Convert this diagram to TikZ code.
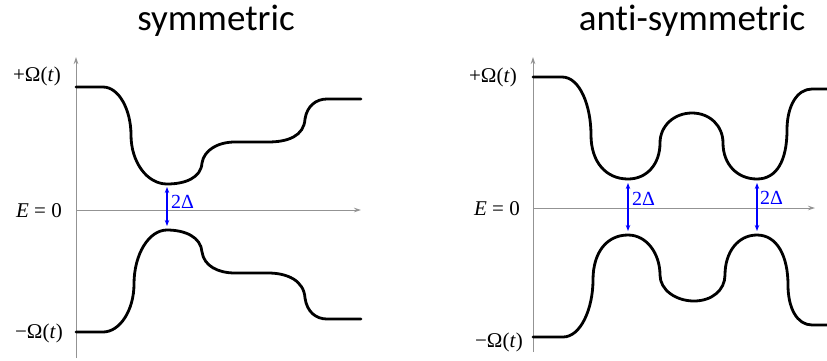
\documentclass[tikz,border=0pt]{standalone}
\usepackage{fontspec}
\setmainfont{Liberation Serif}
\newfontfamily\titlefont[Ligatures={NoCommon}]{Carlito}
\usetikzlibrary{arrows.meta}

\begin{document}
\begin{tikzpicture}[
      x=1pt, y=-1pt,
      axis/.style={draw=gray!85, line width=0.9pt, -{Stealth[length=7pt, width=4.5pt]}},
      level/.style={draw=black, line width=2.8pt, line cap=round, line join=round},
      gap/.style={draw=blue, line width=1.1pt, {Stealth[length=6pt, width=4.5pt]}-{Stealth[length=6pt, width=4.5pt]}},
      title/.style={font=\titlefont\fontsize{37}{44}\selectfont, anchor=base},
      lbl/.style={font=\fontsize{21}{24}\selectfont, inner sep=0pt, anchor=base east},
      gaplbl/.style={font=\fontsize{20}{23}\selectfont, text=blue, inner sep=0pt, anchor=base west}
    ]
    \useasboundingbox (0,0) rectangle (827,360);

    % titles
    \node[title] (symtitle) at (216,30) {symmetric};
    \node[title] (antititle) at (692,30) {anti-symmetric};

    % left panel: axes
    \coordinate (sbot) at (76,358);
    \coordinate (stop) at (76,57);
    \coordinate (szero) at (76,210);
    \coordinate (send) at (361,210);
    \draw[axis] (sbot) -- (stop);
    \draw[axis] (szero) -- (send);

    \node[lbl] (splus) at (61,81) {+Ω(\textit{t})};
    \node[lbl] (sE) at (62,217) {\textit{E} = 0};
    \node[lbl] (sminus) at (63,338) {−Ω(\textit{t})};

    % left panel: levels
    \draw[level] (76,87) -- (103,87)
      .. controls (119,87) and (131,110) .. (131,135)
      .. controls (131,162) and (147,184) .. (167,184)
      .. controls (185,184) and (201,178) .. (202,163)
      .. controls (204,150) and (218,142) .. (235,142) -- (268,142)
      .. controls (288,142) and (304,136) .. (305,119)
      .. controls (307,106) and (316,99) .. (327,99) -- (361,99);
    \draw[level] (76,332) -- (103,332)
      .. controls (120,332) and (134,310) .. (134,284)
      .. controls (134,254) and (149,230) .. (167,230)
      .. controls (185,230) and (201,237) .. (202,252)
      .. controls (204,266) and (218,273) .. (235,273) -- (268,273)
      .. controls (288,273) and (304,281) .. (305,298)
      .. controls (307,312) and (316,319) .. (327,319) -- (361,319);

    \coordinate (sgaptop) at (167,187);
    \coordinate (sgapbot) at (167,226);
    \draw[gap] (sgaptop) -- (sgapbot);
    \node[gaplbl] (sgap) at (171,208) {2Δ};

    % right panel: axes
    \coordinate (abot) at (533,352);
    \coordinate (atop) at (533,57);
    \coordinate (azero) at (533,208);
    \coordinate (aend) at (815,208);
    \draw[axis] (abot) -- (atop);
    \draw[axis] (azero) -- (aend);

    \node[lbl] (aplus) at (517,82) {+Ω(\textit{t})};
    \node[lbl] (aE) at (520,215) {\textit{E} = 0};
    \node[lbl] (aminus) at (523,347) {−Ω(\textit{t})};

    % right panel: levels
    \draw[level] (533,77) -- (562,77)
      .. controls (580,77) and (591,106) .. (591,135)
      .. controls (591,162) and (606,179) .. (628,179)
      .. controls (647,179) and (660,164) .. (660,143)
      .. controls (660,126) and (674,113) .. (692,113)
      .. controls (710,113) and (723,126) .. (723,143)
      .. controls (723,164) and (737,179) .. (757,179)
      .. controls (777,179) and (787,160) .. (787,130)
      .. controls (787,106) and (797,89) .. (812,89) -- (830,89);
    \draw[level] (533,337) -- (563,337)
      .. controls (581,337) and (593,308) .. (593,280)
      .. controls (593,252) and (607,235) .. (628,235)
      .. controls (647,235) and (660,254) .. (660,275)
      .. controls (660,290) and (676,301) .. (694,301)
      .. controls (712,301) and (725,290) .. (725,275)
      .. controls (725,252) and (738,235) .. (757,235)
      .. controls (777,235) and (788,256) .. (788,285)
      .. controls (788,308) and (797,325) .. (812,325) -- (830,325);

    \coordinate (agaptopa) at (628,183);
    \coordinate (agapbota) at (628,231);
    \coordinate (agaptopb) at (757,183);
    \coordinate (agapbotb) at (757,231);
    \draw[gap] (agaptopa) -- (agapbota);
    \draw[gap] (agaptopb) -- (agapbotb);
    \node[gaplbl] (agapa) at (632,205) {2Δ};
    \node[gaplbl] (agapb) at (760,204) {2Δ};
  \end{tikzpicture}
\end{document}
